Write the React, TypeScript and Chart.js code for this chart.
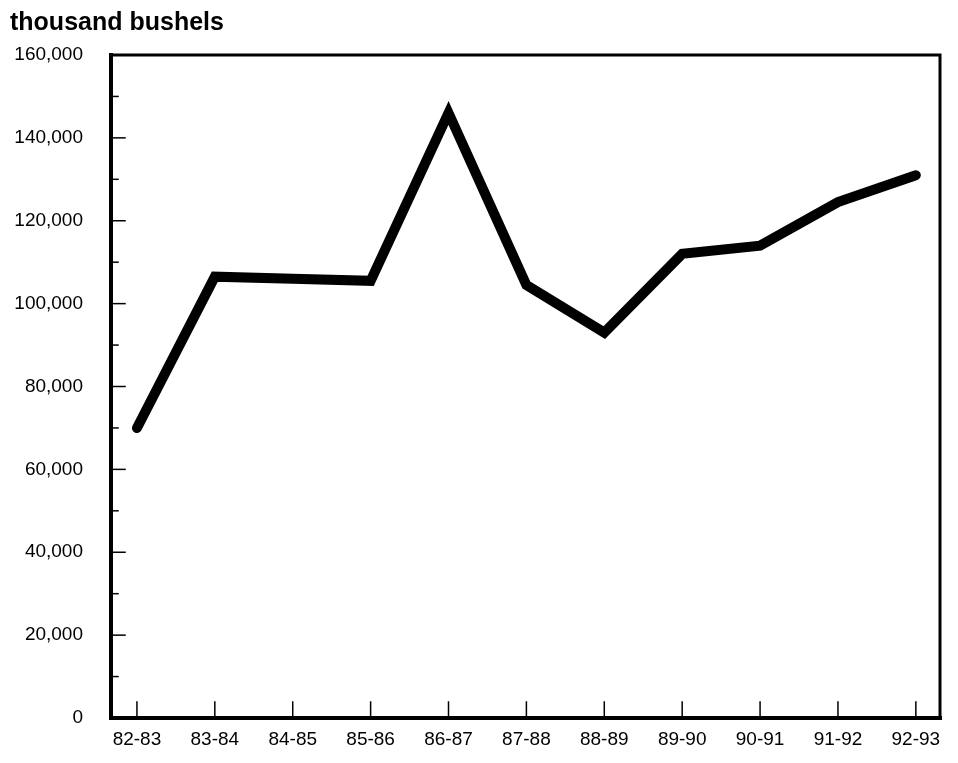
import React, { useEffect, useRef } from "react";
import { Chart, registerables } from "chart.js";

Chart.register(...registerables);

const seasons = ["82-83", "83-84", "84-85", "85-86", "86-87", "87-88", "88-89", "89-90", "90-91", "91-92", "92-93"];
const bushels = [70000, 106500, 106000, 105500, 146000, 104500, 93000, 112000, 114000, 124500, 131000];
const yMin = 0;
const yMax = 160000;
const yLabelStep = 20000;
const yMinorStep = 10000;
const titleText = "thousand bushels";

const FONT = "'Liberation Sans', Arial, Helvetica, sans-serif";

const framePlugin = {
  id: "framePlugin",
  afterDatasetsDraw(chart: any) {
    const { ctx, chartArea, scales } = chart;
    const { left, right, top, bottom } = chartArea;
    ctx.save();
    ctx.strokeStyle = "#000";
    ctx.lineCap = "square";
    ctx.lineWidth = 3;
    ctx.beginPath();
    ctx.moveTo(left, top);
    ctx.lineTo(right, top);
    ctx.lineTo(right, bottom);
    ctx.stroke();
    ctx.lineWidth = 4;
    ctx.beginPath();
    ctx.moveTo(left, top);
    ctx.lineTo(left, bottom);
    ctx.lineTo(right, bottom);
    ctx.stroke();
    ctx.lineWidth = 1.5;
    for (let v = yMin + yMinorStep; v < yMax; v += yMinorStep) {
      const py = scales.y.getPixelForValue(v);
      const len = v % yLabelStep === 0 ? 14 : 7;
      ctx.beginPath();
      ctx.moveTo(left, py);
      ctx.lineTo(left + len, py);
      ctx.stroke();
    }
    seasons.forEach((_, i) => {
      const px = scales.x.getPixelForValue(i);
      ctx.beginPath();
      ctx.moveTo(px, bottom);
      ctx.lineTo(px, bottom - 16);
      ctx.stroke();
    });
    ctx.restore();
  },
};

export default function App() {
  const canvasRef = useRef<HTMLCanvasElement | null>(null);

  useEffect(() => {
    if (!canvasRef.current) return;
    const chart = new Chart(canvasRef.current, {
      type: "line",
      data: {
        datasets: [
          {
            label: titleText,
            data: bushels.map((v, i) => ({ x: i, y: v })),
            borderColor: "#000",
            borderWidth: 10,
            borderCapStyle: "round",
            borderJoinStyle: "miter",
            pointRadius: 0,
            tension: 0,
            fill: false,
          },
        ],
      },
      options: {
        animation: false,
        responsive: true,
        maintainAspectRatio: false,
        layout: { padding: { left: 10, right: 18, top: 0, bottom: 0 } },
        plugins: {
          legend: { display: false },
          tooltip: { enabled: false },
          title: {
            display: true,
            text: titleText,
            align: "start",
            color: "#000",
            font: { family: FONT, size: 25, weight: "bold" },
            padding: { top: 8, bottom: 17 },
          },
        },
        scales: {
          x: {
            type: "linear",
            min: -0.333,
            max: 10.31,
            afterBuildTicks(scale: any) {
              scale.ticks = seasons.map((_, i) => ({ value: i }));
            },
            afterFit(scale: any) {
              scale.height = 45;
            },
            grid: { display: false, drawTicks: false },
            border: { display: false },
            ticks: {
              autoSkip: false,
              maxRotation: 0,
              padding: 10,
              color: "#000",
              font: { family: FONT, size: 19 },
              callback: (value: any) => seasons[Math.round(Number(value))] ?? "",
            },
          },
          y: {
            min: yMin,
            max: yMax,
            afterFit(scale: any) {
              scale.width = 101;
            },
            grid: { display: false, drawTicks: false },
            border: { display: false },
            ticks: {
              stepSize: yLabelStep,
              padding: 28,
              color: "#000",
              font: { family: FONT, size: 19 },
              callback: (value: any) => Number(value).toLocaleString("en-US"),
            },
          },
        },
      },
      plugins: [framePlugin],
    });
    return () => chart.destroy();
  }, []);

  return (
    <div style={{ position: "fixed", left: 0, top: 0, width: 958, height: 763, background: "#fff" }}>
      <canvas ref={canvasRef} />
    </div>
  );
}
